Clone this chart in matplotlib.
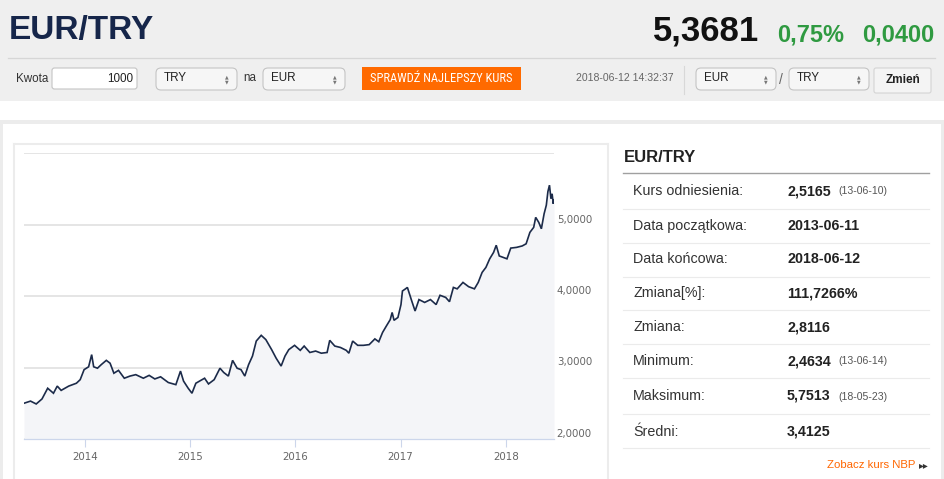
import matplotlib
matplotlib.use("Agg")
import matplotlib.pyplot as plt
from matplotlib.patches import Rectangle, FancyBboxPatch
from matplotlib import font_manager as fm

# ---------------- data ----------------
years = [
    2013.422, 2013.484, 2013.538, 2013.593, 2013.647, 2013.702, 2013.738, 2013.775, 2013.847, 2013.920,
    2013.956, 2013.993, 2014.036, 2014.065, 2014.084, 2014.120, 2014.156, 2014.204, 2014.240, 2014.276,
    2014.320, 2014.375, 2014.429, 2014.484, 2014.556, 2014.611, 2014.665, 2014.720, 2014.793, 2014.865,
    2014.909, 2014.938, 2014.982, 2015.018, 2015.055, 2015.102, 2015.138, 2015.175, 2015.229, 2015.284,
    2015.320, 2015.364, 2015.404, 2015.447, 2015.484, 2015.520, 2015.556, 2015.593, 2015.629, 2015.676,
    2015.720, 2015.775, 2015.818, 2015.865, 2015.902, 2015.938, 2015.993, 2016.047, 2016.084, 2016.138,
    2016.193, 2016.247, 2016.302, 2016.327, 2016.375, 2016.429, 2016.484, 2016.509, 2016.545, 2016.593,
    2016.647, 2016.702, 2016.756, 2016.793, 2016.829, 2016.865, 2016.902, 2016.920, 2016.938, 2016.975,
    2017.004, 2017.018, 2017.047, 2017.065, 2017.102, 2017.138, 2017.175, 2017.229, 2017.284, 2017.338,
    2017.375, 2017.429, 2017.465, 2017.502, 2017.538, 2017.593, 2017.647, 2017.702, 2017.738, 2017.775,
    2017.811, 2017.847, 2017.884, 2017.909, 2017.938, 2017.975, 2018.011, 2018.047, 2018.102, 2018.156,
    2018.193, 2018.229, 2018.265, 2018.284, 2018.313, 2018.338, 2018.364, 2018.385, 2018.400, 2018.415,
    2018.429, 2018.440, 2018.451, 2018.458,
]
rates = [
    2.50, 2.53, 2.49, 2.56, 2.71, 2.64, 2.74, 2.68, 2.74, 2.78,
    2.83, 2.97, 3.01, 3.18, 3.01, 2.99, 3.04, 3.10, 3.06, 2.92,
    2.96, 2.85, 2.88, 2.90, 2.85, 2.89, 2.84, 2.87, 2.79, 2.76,
    2.95, 2.81, 2.71, 2.64, 2.78, 2.82, 2.85, 2.77, 2.83, 2.99,
    2.93, 2.88, 3.10, 2.99, 2.97, 2.88, 3.04, 3.16, 3.37, 3.45,
    3.39, 3.25, 3.13, 3.02, 3.16, 3.25, 3.31, 3.24, 3.30, 3.21,
    3.23, 3.20, 3.21, 3.38, 3.30, 3.28, 3.24, 3.20, 3.37, 3.31,
    3.31, 3.32, 3.40, 3.36, 3.49, 3.58, 3.67, 3.77, 3.66, 3.70,
    3.88, 4.07, 4.10, 4.12, 3.95, 3.79, 3.95, 3.91, 3.95, 3.88,
    4.01, 3.98, 3.92, 4.12, 4.10, 4.19, 4.13, 4.10, 4.19, 4.33,
    4.40, 4.52, 4.61, 4.71, 4.56, 4.54, 4.52, 4.67, 4.68, 4.70,
    4.73, 4.89, 4.96, 5.10, 5.03, 4.94, 5.15, 5.27, 5.46, 5.55,
    5.36, 5.43, 5.29, 5.34,
]
x_ticks = [2014, 2015, 2016, 2017, 2018]
x_tick_labels = ["2014", "2015", "2016", "2017", "2018"]
y_ticks = [2, 3, 4, 5, 6]
y_tick_labels = ["2,0000", "3,0000", "4,0000", "5,0000", ""]

pair_title = "EUR/TRY"
price = "5,3681"
change_pct = "0,75%"
change_abs = "0,0400"
timestamp = "2018-06-12 14:32:37"

table_labels = ["Kurs odniesienia:", "Data początkowa:", "Data końcowa:", "Zmiana[%]:",
                "Zmiana:", "Minimum:", "Maksimum:", "Średni:"]
table_values = ["2,5165", "2013-06-11", "2018-06-12", "111,7266%",
                "2,8116", "2,4634", "5,7513", "3,4125"]
table_dates = ["(13-06-10)", "", "", "", "", "(13-06-14)", "(18-05-23)", ""]

# ---------------- fonts ----------------
avail = {f.name for f in fm.fontManager.ttflist}
def pick(*names):
    for n in names:
        if n in avail:
            return n
    return "DejaVu Sans"
SANS = pick("Liberation Sans", "Arimo", "DejaVu Sans")
NARROW = pick("Liberation Sans Narrow", "Roboto Condensed", "Liberation Sans")
CHART = "DejaVu Sans"

W, H = 945, 479
fig = plt.figure(figsize=(W / 100, H / 100), dpi=100)
fig.patch.set_facecolor("white")

bg = fig.add_axes([0, 0, 1, 1], zorder=0)
bg.set_xlim(0, W)
bg.set_ylim(H, 0)
bg.axis("off")

# header band
bg.add_patch(Rectangle((0, 0), W, 101, facecolor="#efefef", edgecolor="none"))
bg.plot([8, 935], [58, 58], color="#d6d6d6", lw=0.9)

bg.text(9, 30, pair_title, fontsize=24, color="#16264a", family=SANS, weight="bold",
        ha="left", va="center")
bg.text(759, 31, price, fontsize=25, color="#111111", family=SANS, weight="bold",
        ha="right", va="center")
bg.text(777, 35, change_pct, fontsize=17, color="#2f9a41", family=SANS, weight="bold",
        ha="left", va="center")
bg.text(934, 35, change_abs, fontsize=17, color="#2f9a41", family=SANS, weight="bold",
        ha="right", va="center")

# controls row
cy = 79
bg.text(16, cy, "Kwota", fontsize=8.4, color="#333333", family=SANS, ha="left", va="center")

def box(x0, x1, y0, y1, fc, ec="#c4c4c4", r=3):
    bg.add_patch(FancyBboxPatch((x0, y0), x1 - x0, y1 - y0,
                                boxstyle=f"round,pad=0,rounding_size={r}",
                                facecolor=fc, edgecolor=ec, lw=0.8))

box(52, 137, 68, 89, "white", r=2.5)
bg.text(133, cy, "1000", fontsize=8.4, color="#222222", family=SANS, ha="right", va="center")

def select(x0, x1, label):
    box(x0, x1, 68, 90, "#f6f6f6", r=5)
    bg.text(x0 + 8, cy - 1, label, fontsize=8.4, color="#222222", family=SANS,
            ha="left", va="center")
    bg.text(x1 - 10, cy - 2.5, "▲", fontsize=3.4, color="#777777", family="DejaVu Sans",
            ha="center", va="center")
    bg.text(x1 - 10, cy + 2.5, "▼", fontsize=3.4, color="#777777", family="DejaVu Sans",
            ha="center", va="center")

select(156, 237, "TRY")
bg.text(243, cy - 1, "na", fontsize=8.4, color="#333333", family=SANS, ha="left", va="center")
select(263, 345, "EUR")

bg.add_patch(Rectangle((362, 67), 159, 23, facecolor="#ff6a00", edgecolor="none"))
bg.text(441.5, cy - 0.5, "SPRAWDŹ NAJLEPSZY KURS", fontsize=9, color="white",
        family=NARROW, ha="center", va="center")

bg.text(674, cy - 1, timestamp, fontsize=7.6, color="#666666", family=SANS,
        ha="right", va="center")
bg.plot([684, 684], [66, 94], color="#d8d8d8", lw=0.8)

select(696, 776, "EUR")
bg.text(781, cy + 1, "/", fontsize=10, color="#666666", family=SANS, ha="center", va="center")
select(789, 869, "TRY")

box(874, 931, 68, 93, "#f4f4f4", ec="#d4d4d4", r=2)
bg.text(902.5, cy + 1, "Zmień", fontsize=8.5, color="#222222", family=SANS, weight="bold",
        ha="center", va="center")

# outer panel border
bg.add_patch(Rectangle((0, 120), W, 4, facecolor="#ececec", edgecolor="none"))
bg.add_patch(Rectangle((0, 120), 3, H - 120, facecolor="#ececec", edgecolor="none"))
bg.add_patch(Rectangle((941, 120), 4, H - 120, facecolor="#ececec", edgecolor="none"))

# chart box border
bg.plot([13.5, 13.5], [H, 143.5], color="#ececec", lw=1.5)
bg.plot([13.5, 608], [143.5, 143.5], color="#ececec", lw=1.5)
bg.plot([608, 608], [143.5, H], color="#ececec", lw=1.5)

# right table
bg.text(624, 157, pair_title, fontsize=12, color="#222222", family=SANS, weight="bold",
        ha="left", va="center")
bg.plot([623, 929], [172.5, 172.5], color="#a0a0a0", lw=1.0)
row_y = [191, 226, 259, 293, 327, 361, 396, 432]
sep_y = [209, 243, 277, 310, 344, 378, 414, 448]
for lab, val, dt, ry, sy in zip(table_labels, table_values, table_dates, row_y, sep_y):
    bg.text(633, ry, lab, fontsize=10.3, color="#333333", family=SANS, ha="left", va="center")
    bg.text(787, ry, val, fontsize=10.3, color="#222222", family=SANS, weight="bold",
            ha="left", va="center")
    if dt:
        bg.text(838, ry + 0.5, dt, fontsize=7.6, color="#555555", family=SANS,
                ha="left", va="center")
    bg.plot([623, 929], [sy, sy], color="#ebebeb", lw=0.8)

bg.text(915, 465, "Zobacz kurs NBP", fontsize=8.2, color="#ff6600", family=SANS,
        ha="right", va="center")
bg.text(923.5, 465.5, "▸▸", fontsize=7, color="#333333", family="DejaVu Sans",
        ha="center", va="center")

# ---------------- chart ----------------
left, right, top, bottom = 24, 554, 153, 439
ax = fig.add_axes([left / W, (H - bottom) / H, (right - left) / W, (bottom - top) / H],
                  zorder=2)
ax.set_facecolor("none")
ax.set_xlim(years[0], years[-1])
ax.set_ylim(2, 6)
ax.fill_between(years, rates, 2, color="#f4f5f8", lw=0, zorder=1)
for yv in y_ticks:
    ax.axhline(yv, color="#e3e3e3", lw=1.3, zorder=0.5)
ax.plot(years, rates, color="#1c2b4a", lw=1.2, zorder=3, solid_joinstyle="miter")

for s in ["top", "left", "right"]:
    ax.spines[s].set_visible(False)
ax.spines["bottom"].set_color("#ccd6eb")
ax.spines["bottom"].set_linewidth(0.9)
ax.spines["bottom"].set_zorder(4)

ax.set_xticks(x_ticks)
ax.set_xticklabels(x_tick_labels, fontsize=7.4, color="#666666", family=CHART)
ax.tick_params(axis="x", length=6, width=0.8, color="#ccd6eb", pad=3)
ax.yaxis.tick_right()
ax.set_yticks(y_ticks)
ax.set_yticklabels(y_tick_labels, fontsize=7.4, color="#666666", family=CHART)
ax.tick_params(axis="y", length=0, pad=2)
for lbl in ax.get_yticklabels():
    lbl.set_verticalalignment("bottom")

fig.savefig("out.png", dpi=100, facecolor="white")
